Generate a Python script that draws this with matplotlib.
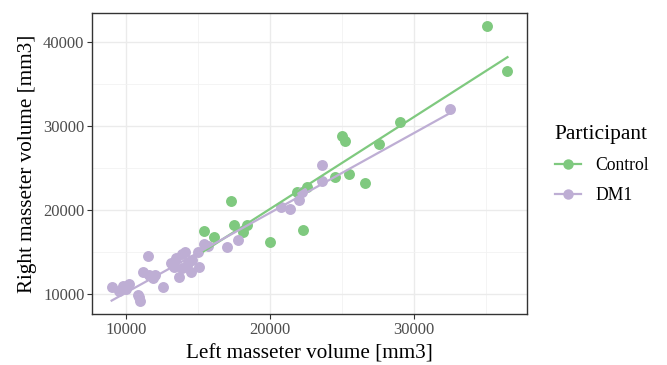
import numpy as np
import matplotlib
matplotlib.use('Agg')
import matplotlib.pyplot as plt
from matplotlib.lines import Line2D

plt.rcParams['font.family'] = ['Liberation Serif', 'DejaVu Serif']

# data
control_left = [15400, 16100, 17300, 17500, 18100, 18400, 20000, 21900, 22300, 22600,
                24500, 25000, 25200, 25500, 26600, 27600, 29000, 35100, 36500]
control_right = [17500, 16800, 21100, 18200, 17400, 18200, 16200, 22100, 17600, 22700,
                 23900, 28800, 28200, 24300, 23200, 27900, 30500, 41900, 36600]

dm1_left = [9000, 9500, 9800, 10000, 10200, 10800, 11000, 10900, 11200, 11500,
            11600, 11900, 12000, 12600, 13100, 13300, 13500, 13700, 13900, 13900,
            14100, 14300, 14500, 14600, 15100, 15000, 15400, 15700, 17000, 17800,
            20800, 21400, 22000, 22200, 23600, 23600, 32500]
dm1_right = [10800, 10300, 11000, 10600, 11200, 9900, 9200, 9600, 12600, 14500,
             12200, 11900, 12300, 10800, 13700, 13200, 14300, 12000, 14700, 13100,
             15000, 13700, 12600, 14000, 13200, 15000, 15900, 15700, 15600, 16400,
             20300, 20100, 21200, 22200, 25400, 23400, 32000]

groups = ['Control', 'DM1']
colors = ['#7fc97f', '#beaed4']

fig = plt.figure(figsize=(6.67, 3.65), dpi=100)
ax = fig.add_axes([0.138, 0.140, 0.652, 0.824])

for lab, xs, ys, c in [('Control', control_left, control_right, colors[0]),
                       ('DM1', dm1_left, dm1_right, colors[1])]:
    xs = np.array(xs); ys = np.array(ys)
    ax.scatter(xs, ys, s=62, color=c, zorder=3, linewidths=0)
    # linear fit like geom_smooth(method='lm')
    k, b = np.polyfit(xs, ys, 1)
    xx = np.array([xs.min(), xs.max()])
    ax.plot(xx, k * xx + b, color=c, lw=1.6, zorder=4)

ax.set_xlim(7640, 37850)
ax.set_ylim(7620, 43450)
ax.set_xticks([10000, 20000, 30000])
ax.set_yticks([10000, 20000, 30000, 40000])
ax.set_xticks([15000, 25000, 35000], minor=True)
ax.set_yticks([15000, 25000, 35000], minor=True)
ax.grid(True, which='major', color='#ebebeb', lw=1.0, zorder=0)
ax.grid(True, which='minor', color='#f2f2f2', lw=0.6, zorder=0)
ax.set_axisbelow(True)
ax.tick_params(which='major', length=3.5, width=0.8, color='#333333',
               labelsize=12, labelcolor='#4d4d4d', pad=2)
ax.tick_params(which='minor', length=0)
for sp in ax.spines.values():
    sp.set_color('#333333')
    sp.set_linewidth(1.0)

ax.set_xlabel('Left masseter volume [mm3]', fontsize=15.2, labelpad=5)
ax.set_ylabel('Right masseter volume [mm3]', fontsize=15.2, labelpad=4)

handles = [Line2D([0], [0], color=c, lw=1.6, marker='o', markersize=7.5,
                  markeredgewidth=0) for c in colors]
leg = fig.legend(handles, groups, title='Participant', loc='center left',
                 bbox_to_anchor=(0.808, 0.55), frameon=False, fontsize=12.7,
                 title_fontsize=15.5, handlelength=1.5, labelspacing=0.75,
                 handletextpad=0.8)
leg._legend_box.align = 'left'

fig.savefig('out.png', dpi=100)
